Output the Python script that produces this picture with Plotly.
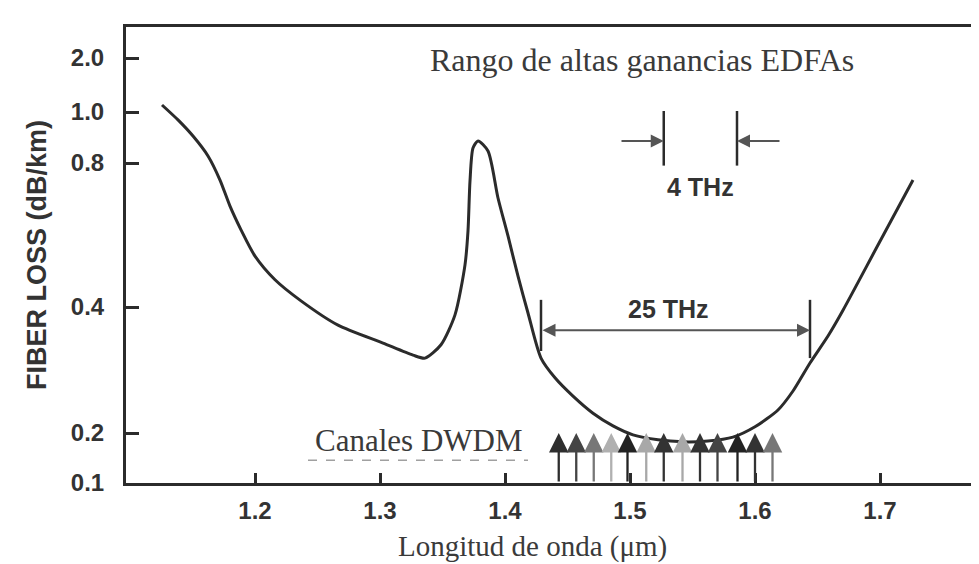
import numpy as np
import plotly.graph_objects as go

# ---------------- data ----------------
wavelength_um = [1.1256, 1.1384, 1.1504, 1.1624, 1.1720, 1.1800, 1.1888, 1.2000,
                 1.2160, 1.2368, 1.2664, 1.3024, 1.3264, 1.3360, 1.3488, 1.3600,
                 1.3680, 1.3704, 1.3720, 1.3744, 1.3784, 1.3864, 1.3944, 1.4024,
                 1.4104, 1.4184, 1.4288, 1.4400, 1.4544, 1.4704, 1.4864, 1.5024,
                 1.5224, 1.5424, 1.5624, 1.5824, 1.6000, 1.6184, 1.6304, 1.6440,
                 1.6584, 1.6704, 1.6984, 1.7264]
loss_db_km = [1.094, 0.966, 0.900, 0.825, 0.737, 0.650, 0.580, 0.511,
              0.456, 0.412, 0.362, 0.328, 0.307, 0.302, 0.325, 0.383,
              0.490, 0.577, 0.734, 0.854, 0.881, 0.843, 0.676, 0.563,
              0.464, 0.387, 0.302, 0.271, 0.245, 0.223, 0.208, 0.195,
              0.182, 0.177, 0.179, 0.189, 0.207, 0.227, 0.252, 0.294,
              0.341, 0.393, 0.539, 0.737]

# DWDM channels (arrows from 0.1 up to 0.2 dB/km)
channel_wavelength_um = [1.443, 1.457, 1.471, 1.485, 1.498, 1.513, 1.527,
                         1.542, 1.556, 1.570, 1.586, 1.600, 1.614]
channel_shade = ["#2e2e2e", "#444444", "#777777", "#b0b0b0", "#222222", "#a8a8a8", "#333333",
                 "#a8a8a8", "#333333", "#444444", "#222222", "#333333", "#777777"]
channel_loss_low = 0.1
channel_loss_high = 0.2

# Bands
band_25thz_um = [1.4288, 1.6440]
band_4thz_um = [1.5270, 1.5856]

# Axis ticks
x_tick_values = [1.2, 1.3, 1.4, 1.5, 1.6, 1.7]
x_tick_text = ["1.2", "1.3", "1.4", "1.5", "1.6", "1.7"]
y_tick_loss = [0.1, 0.2, 0.4, 0.8, 1.0, 2.0]
y_tick_text = ["0.1", "0.2", "0.4", "0.8", "1.0", "2.0"]

# ---------------- irregular printed loss scale ----------------
Y_TICK_POS = [0, 50, 176, 320, 371, 425]   # where each printed tick sits on the scale
Y_SCALE_TOP = 456


def to_axis(v):
    return np.interp(np.log(np.asarray(v, dtype=float)), np.log(y_tick_loss), Y_TICK_POS)


INK = "#2b2b2b"
GREY = "#555555"
SANS = "Liberation Sans"
SERIF = "Liberation Serif"

fig = go.Figure()

fig.add_trace(go.Scatter(
    x=wavelength_um, y=to_axis(loss_db_km), mode="lines",
    line=dict(color=INK, width=3, shape="spline", smoothing=0.7),
    hoverinfo="skip"))

annotations = []
shapes = []

# DWDM arrows
for wl, col in zip(channel_wavelength_um, channel_shade):
    annotations.append(dict(
        x=wl, y=float(to_axis(channel_loss_high)), ax=wl, ay=float(to_axis(channel_loss_low)),
        xref="x", yref="y", axref="x", ayref="y", text="", showarrow=True,
        arrowhead=2, arrowsize=1.7, arrowwidth=2.3, arrowcolor=col))

# 25 THz bracket
for wl, lo in zip(band_25thz_um, [0.314, 0.302]):
    shapes.append(dict(type="line", xref="x", yref="y", x0=wl, x1=wl,
                       y0=float(to_axis(lo)), y1=float(to_axis(0.414)),
                       line=dict(color=INK, width=2.5)))
annotations.append(dict(
    x=band_25thz_um[1], y=float(to_axis(0.352)), ax=band_25thz_um[0], ay=float(to_axis(0.352)),
    xref="x", yref="y", axref="x", ayref="y", text="", showarrow=True,
    arrowhead=2, arrowside="end+start", arrowsize=1.3, arrowwidth=2, arrowcolor=GREY))
annotations.append(dict(
    x=sum(band_25thz_um) / 2 - 0.006, y=float(to_axis(0.395)), xref="x", yref="y",
    text="25 THz", showarrow=False,
    font=dict(family=SANS, size=25, color="#333333", weight="bold")))

# 4 THz marker
for wl in band_4thz_um:
    shapes.append(dict(type="line", xref="x", yref="y", x0=wl, x1=wl,
                       y0=float(to_axis(0.79)), y1=float(to_axis(1.013)),
                       line=dict(color=INK, width=2.5)))
annotations.append(dict(
    x=band_4thz_um[0], y=float(to_axis(0.881)), ax=1.492, ay=float(to_axis(0.881)),
    xref="x", yref="y", axref="x", ayref="y", text="", showarrow=True,
    arrowhead=2, arrowsize=1.3, arrowwidth=2, arrowcolor=GREY))
annotations.append(dict(
    x=band_4thz_um[1], y=float(to_axis(0.881)), ax=1.6208, ay=float(to_axis(0.881)),
    xref="x", yref="y", axref="x", ayref="y", text="", showarrow=True,
    arrowhead=2, arrowsize=1.3, arrowwidth=2, arrowcolor=GREY))
annotations.append(dict(
    x=sum(band_4thz_um) / 2, y=float(to_axis(0.712)), xref="x", yref="y",
    text="4 THz", showarrow=False,
    font=dict(family=SANS, size=25, color="#333333", weight="bold")))

# Texts
annotations.append(dict(
    x=1.5096, y=float(to_axis(1.94)), xref="x", yref="y",
    text="Rango de altas ganancias EDFAs", showarrow=False,
    font=dict(family=SERIF, size=32, color="#3a3a3a")))
annotations.append(dict(
    x=1.3304, y=float(to_axis(0.181)), xref="x", yref="y",
    text="Canales DWDM", showarrow=False,
    font=dict(family=SERIF, size=31, color="#3a3a3a")))
shapes.append(dict(type="line", xref="x", yref="y", x0=1.2424, x1=1.4184,
                   y0=float(to_axis(0.137)), y1=float(to_axis(0.137)),
                   line=dict(color="#a0a0a0", width=1.5, dash="dash")))

annotations.append(dict(
    x=0.4727, y=-0.179, xref="paper", yref="paper", xanchor="center", yanchor="bottom",
    text="Longitud de onda (μm)", showarrow=False,
    font=dict(family=SERIF, size=29, color="#3a3a3a")))
annotations.append(dict(
    x=-0.1034, y=0.5, xref="paper", yref="paper", xanchor="center", yanchor="middle",
    text="FIBER LOSS (dB/km)", textangle=-90, showarrow=False,
    font=dict(family=SANS, size=27, color="#333333", weight="bold")))

fig.update_layout(
    width=979, height=564,
    margin=dict(l=118, r=0, t=19, b=89),
    paper_bgcolor="white", plot_bgcolor="white",
    showlegend=False,
    annotations=annotations, shapes=shapes,
    xaxis=dict(range=[1.0968, 1.7856], tickvals=x_tick_values, ticktext=x_tick_text,
               ticks="inside", ticklen=10, tickwidth=3, tickcolor=INK,
               showline=True, linewidth=3, linecolor=INK, mirror=True,
               showgrid=False, zeroline=False, ticklabelstandoff=4,
               tickfont=dict(family=SANS, size=24, color="#333333", weight="bold")),
    yaxis=dict(range=[0, Y_SCALE_TOP], tickvals=[float(p) for p in to_axis(y_tick_loss)],
               ticktext=y_tick_text,
               ticks="inside", ticklen=13, tickwidth=3, tickcolor=INK,
               showline=True, linewidth=3, linecolor=INK, mirror=False,
               showgrid=False, zeroline=False, ticklabelstandoff=14,
               tickfont=dict(family=SANS, size=24, color="#333333", weight="bold")),
)

fig.write_html("out.html")
